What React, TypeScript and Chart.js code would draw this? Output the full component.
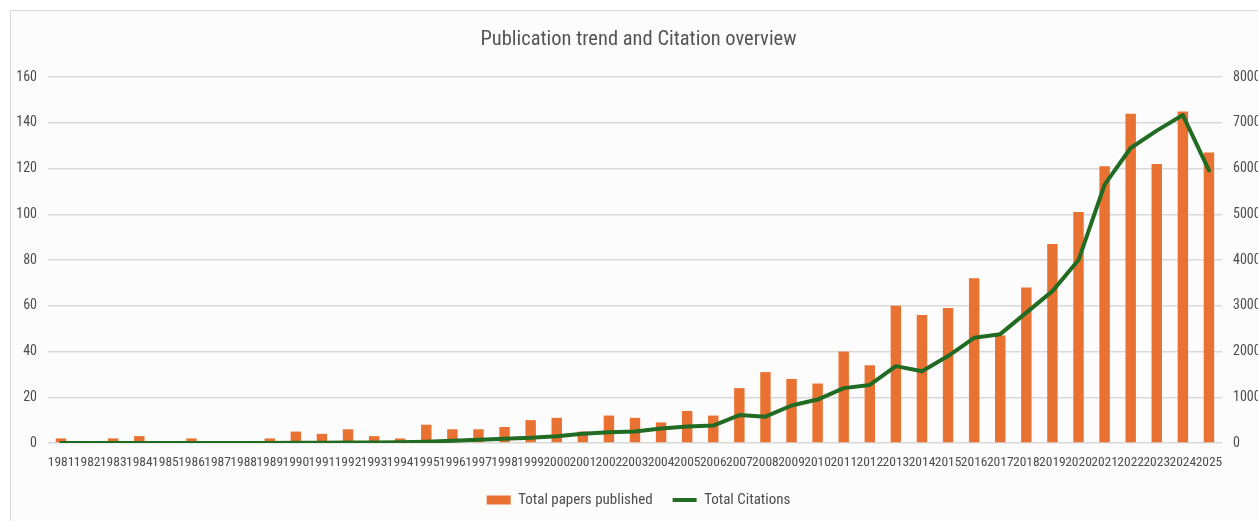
import React, { useEffect, useRef } from "react";
import { Chart, registerables } from "chart.js";

Chart.register(...registerables);

const years = [
  "1981", "1982", "1983", "1984", "1985", "1986", "1987", "1988", "1989",
  "1990", "1991", "1992", "1993", "1994", "1995", "1996", "1997", "1998", "1999",
  "2000", "2001", "2002", "2003", "2004", "2005", "2006", "2007", "2008", "2009",
  "2010", "2011", "2012", "2013", "2014", "2015", "2016", "2017", "2018", "2019",
  "2020", "2021", "2022", "2023", "2024", "2025",
];

const papers = [
  2, 0, 2, 3, 0, 2, 0, 0, 2,
  5, 4, 6, 3, 2, 8, 6, 6, 7, 10,
  11, 5, 12, 11, 9, 14, 12, 24, 31, 28,
  26, 40, 34, 60, 56, 59, 72, 47, 68, 87,
  101, 121, 144, 122, 145, 127,
];

const citations = [
  0, 0, 0, 0, 0, 0, 0, 0, 0,
  5, 5, 10, 10, 15, 30, 50, 70, 95, 115,
  150, 200, 235, 250, 315, 360, 380, 610, 575, 820,
  950, 1200, 1270, 1680, 1570, 1900, 2300, 2380, 2850, 3320,
  4000, 5650, 6450, 6830, 7170, 5960,
];

const seriesNames = ["Total papers published", "Total Citations"];
const titleText = "Publication trend and Citation overview";

const ORANGE = "#E97132";
const GREEN = "#216B23";
const TEXT = "#4d4d4d";
const TITLE = "#555555";
const GRID = "#d9d9d9";
const FONT =
  "'Liberation Sans Narrow', 'Arial Narrow', 'Roboto Condensed', 'DejaVu Sans Condensed', sans-serif";

const W = 1255;
const H = 540;

export default function App() {
  const ref = useRef<HTMLCanvasElement | null>(null);

  useEffect(() => {
    if (!ref.current) return;
    const chart = new Chart(ref.current, {
      type: "bar",
      data: {
        labels: years,
        datasets: [
          {
            type: "bar",
            label: seriesNames[0],
            data: papers,
            backgroundColor: ORANGE,
            borderWidth: 0,
            barPercentage: 0.4,
            categoryPercentage: 1,
            yAxisID: "y",
            order: 1,
          },
          {
            type: "line",
            label: seriesNames[1],
            data: citations,
            borderColor: GREEN,
            backgroundColor: GREEN,
            borderWidth: 4,
            pointRadius: 0,
            tension: 0,
            borderJoinStyle: "round",
            borderCapStyle: "round",
            yAxisID: "y1",
            order: 0,
          },
        ],
      } as any,
      options: {
        responsive: false,
        animation: false,
        devicePixelRatio: 1,
        layout: { padding: { left: 0, right: 0, top: 0, bottom: 33.5 } },
        plugins: {
          tooltip: { enabled: false },
          title: {
            display: true,
            text: titleText,
            color: TITLE,
            font: { family: FONT, size: 20.5, weight: "normal", lineHeight: 1.2 },
            padding: { top: 16.5, bottom: 25 },
          },
          legend: {
            position: "bottom",
            labels: {
              usePointStyle: true,
              pointStyleWidth: 24,
              boxHeight: 9,
              padding: 20,
              color: TEXT,
              font: { family: FONT, size: 15 },
              generateLabels: (c: any) => {
                const items = (Chart.defaults.plugins.legend.labels as any).generateLabels(c);
                return items
                  .sort((a: any, b: any) => a.datasetIndex - b.datasetIndex)
                  .map((it: any) => {
                    const isBar = it.datasetIndex === 0;
                    return {
                      ...it,
                      pointStyle: isBar ? "rect" : "line",
                      fillStyle: isBar ? ORANGE : GREEN,
                      strokeStyle: isBar ? ORANGE : GREEN,
                      lineWidth: isBar ? 0 : 4,
                    };
                  });
              },
            },
          },
        },
        scales: {
          x: {
            offset: true,
            grid: { display: false, drawTicks: false },
            border: { display: false },
            ticks: {
              autoSkip: false,
              maxRotation: 0,
              minRotation: 0,
              padding: 12,
              color: TEXT,
              font: { family: FONT, size: 13.5 },
            },
            afterFit: (s: any) => {
              s.height = 29.5;
            },
          },
          y: {
            position: "left",
            min: 0,
            max: 160,
            ticks: {
              stepSize: 20,
              padding: 11,
              color: TEXT,
              font: { family: FONT, size: 14 },
              callback: (v: any) => String(v),
            },
            grid: { color: GRID, lineWidth: 1.5, drawTicks: false },
            border: { display: false },
            afterFit: (s: any) => {
              s.width = 37;
            },
          },
          y1: {
            position: "right",
            min: 0,
            max: 8000,
            ticks: {
              stepSize: 1000,
              padding: 11,
              color: TEXT,
              font: { family: FONT, size: 14 },
              callback: (v: any) => String(v),
            },
            grid: { display: false, drawTicks: false },
            border: { display: false },
            afterFit: (s: any) => {
              s.width = 44;
            },
          },
        },
      } as any,
    });
    return () => chart.destroy();
  }, []);

  return (
    <div
      style={{
        position: "fixed",
        left: 0,
        top: 0,
        width: "100vw",
        height: "100vh",
        overflow: "hidden",
        background: "#ffffff",
      }}
    >
      <div
        style={{
          position: "absolute",
          left: 10,
          top: 10,
          width: W,
          height: H,
          border: `1px solid ${GRID}`,
          background: "#fcfcfc",
        }}
      >
        <canvas ref={ref} width={W} height={H} style={{ display: "block", width: W, height: H }} />
      </div>
    </div>
  );
}
